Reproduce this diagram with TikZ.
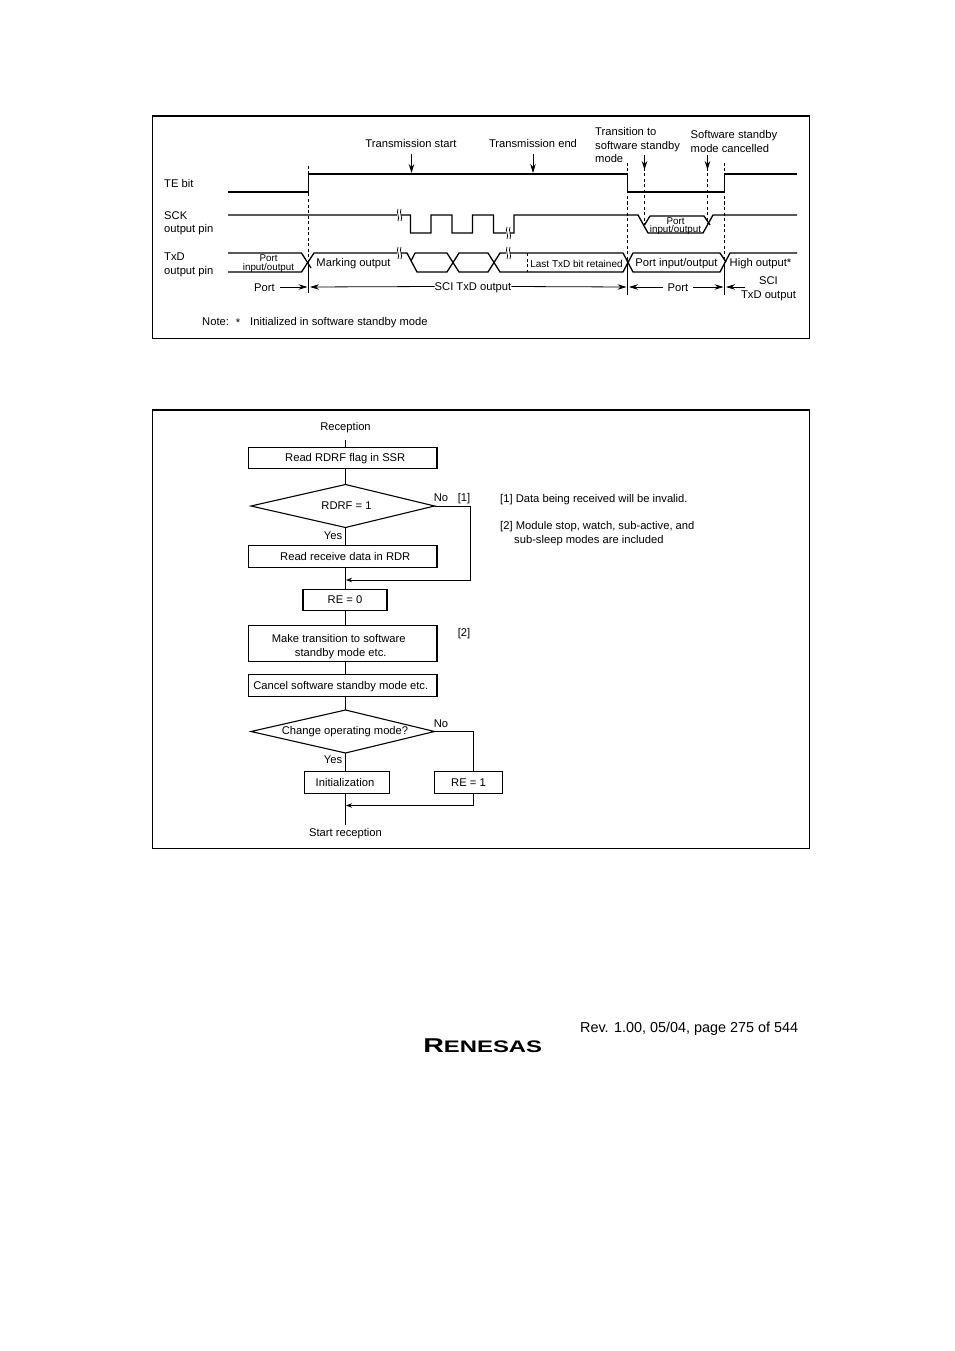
\documentclass[tikz,border=0pt]{standalone}
\usepackage{fontspec}
\setmainfont{Liberation Sans}
\usetikzlibrary{arrows.meta}
\tikzset{
  frameline/.style={line width=1pt},
  frametop/.style={line width=2pt},
  wave/.style={line width=1.3pt},
  dashline/.style={line width=0.8pt,dash pattern=on 3pt off 2.5pt},
  marker/.style={line width=0.8pt,-{Stealth[length=9pt,width=5.5pt]}},
  txtm/.style={font=\fontsize{11.2}{13.5}\selectfont,inner sep=0pt,align=center},
  txt/.style={txtm,text height=8pt,text depth=0pt},
  txtl/.style={txt,anchor=west,align=left},
  txtml/.style={txtm,anchor=west,align=left},
  small/.style={txtm,font=\fontsize{9.8}{8.5}\selectfont},
  procbox/.style={draw,line width=1.4pt,minimum height=21.5pt,inner sep=0pt,txt,text depth=1pt},
  decision/.style={line width=1.1pt},
  flow/.style={line width=0.9pt},
  flowarrow/.style={flow,-{Stealth[length=6pt,width=4.5pt]}}
}
\newcommand{\brkmark}[2]{%
  \fill[white] (#1,#2-6) rectangle (#1+4,#2+6);
  \draw[line width=0.7pt] (#1+1,#2-6) .. controls (#1-1,#2-2) and (#1+3,#2+2) .. (#1+1,#2+6);
  \draw[line width=0.7pt] (#1+4,#2-6) .. controls (#1+2,#2-2) and (#1+6,#2+2) .. (#1+4,#2+6);}
\begin{document}
\begin{tikzpicture}[x=1pt,y=-1pt,>=Stealth]
  \useasboundingbox (0,0) rectangle (954,1351);
  \fill[white] (0,0) rectangle (954,1351);
  % top frame
  \draw[frameline] (152.5,116) rectangle (809.5,338);
  \draw[frametop] (152,116) -- (810,116);
  % TE bit
  \draw[wave] (228,192) -- (308.5,192) -- (308.5,174) -- (627.5,174) -- (627.5,192) -- (724.5,192) -- (724.5,174) -- (797,174);
  % SCK
  \draw[wave] (228,215) -- (410.5,215) -- (410.5,233) -- (431,233) -- (431,215) -- (452,215) -- (452,233) -- (472.5,233) -- (472.5,215) -- (493.5,215) -- (493.5,233) -- (514,233) -- (514,215) -- (638,215) -- (648,233) -- (703,233) -- (713,215) -- (797,215);
  \draw[wave] (650,216) -- (644.5,225);
  \draw[wave] (650,216) -- (704,216) -- (710,225);
  \brkmark{397}{215}
  \brkmark{506}{233}
  % TxD
  \draw[wave] (228,253) -- (301.5,253) -- (311,268);
  \draw[wave] (228,272) -- (301.5,272) -- (314,253) -- (397,253);
  \draw[wave] (397,253) -- (407,253) -- (417,272) -- (447,272) -- (459,253) -- (488,253) -- (500,272) -- (623,272) -- (633,253) -- (720,253) -- (726,262);
  \draw[wave] (415,253) -- (411,261);
  \draw[wave] (415,253) -- (447,253) -- (459,272) -- (488,272) -- (500,253) -- (623,253) -- (633,272) -- (720,272) -- (730,253) -- (797,253);
  \brkmark{397}{253}
  \brkmark{506}{253}
  % timing lines
  \draw[dashline] (308.5,166) -- (308.5,262);
  \draw[dashline] (627.5,163) -- (627.5,262);
  \draw[dashline] (724.5,163) -- (724.5,262);
  \draw[dashline] (644.5,168) -- (644.5,225);
  \draw[dashline] (707.5,168) -- (707.5,225);
  \draw[dashline] (527.5,253) -- (527.5,272);
  \draw[line width=0.9pt] (308.5,262) -- (308.5,293);
  \draw[line width=0.9pt] (627.5,262) -- (627.5,295);
  \draw[line width=0.9pt] (724.5,262) -- (724.5,295);
  % signal names
  \node[txtl] (tebit) at (164,183) {TE bit};
  \node[txtml] (sckpin) at (164,223.5) {SCK\\output pin};
  \node[txtml] (txdpin) at (164,265) {TxD\\output pin};
  % events
  \node[txt] (txstart) at (411,143.7) {Transmission start};
  \node[txt] (txend) at (533,143.7) {Transmission end};
  \node[txtml] (tostandby) at (595,145) {Transition to\\software standby\\mode};
  \node[txtml] (cancelled) at (690.5,141.5) {Software standby\\mode cancelled};
  \coordinate (txstarttip) at (411.5,173);
  \coordinate (txendtip) at (533,173);
  \coordinate (tostandbytip) at (644.5,170);
  \coordinate (cancelledtip) at (707.5,170);
  \draw[marker] (411.5,154) -- (txstarttip);
  \draw[marker] (533,154) -- (txendtip);
  \draw[marker] (644.5,155) -- (tostandbytip);
  \draw[marker] (707.5,155) -- (cancelledtip);
  % labels in the waves
  \node[small] (portio1) at (268.5,263.5) {Port\\input/output};
  \node[txt] (marking) at (353.5,262) {Marking output};
  \node[txt,font=\fontsize{10}{12}\selectfont] (lastbit) at (576.5,263.5) {Last TxD bit retained};
  \node[txt] (portio2) at (676.5,262) {Port input/output};
  \node[txtl] (high) at (729.5,262) {High output*};
  \node[small] (portio3) at (675.5,226) {Port\\input/output};
  % spans
  \node[txt] (port1) at (264.5,287) {Port};
  \node[txt] (scitxd) at (473,286.5) {SCI TxD output};
  \node[txt] (port2) at (678,287) {Port};
  \node[txtm] (scitxd2) at (768.5,289) {SCI\\TxD output};
  \coordinate (a1) at (307.5,287);
  \coordinate (a2) at (310,287);
  \coordinate (a3) at (626.5,287);
  \coordinate (a4) at (629,287);
  \coordinate (a5) at (723.5,287);
  \coordinate (a6) at (726,287);
  \draw[marker] (port1.east) ++(5,0) -- (a1);
  \draw[marker] (scitxd.west) -- (a2);
  \draw[marker] (scitxd.east) -- (a3);
  \draw[marker] (port2.west) ++(-5,0) -- (a4);
  \draw[marker] (port2.east) ++(5,0) -- (a5);
  \draw[marker] (745,287) -- (a6);
  \node[txtl] (note) at (202,321) {Note:};
  \node[txt] (noteast) at (238,322) {*};
  \node[txtl] (notetext) at (250,321) {Initialized in software standby mode};
  % bottom frame
  \draw[frameline] (152.5,410) rectangle (809.5,848.5);
  \draw[frametop] (152,410) -- (810,410);
  % flowchart
  \node[txt] (recv) at (345.5,426) {Reception};
  \node[procbox,minimum width=188.5pt] (rdrdrf) at (342.75,458) {\hspace*{5pt}Read RDRF flag in SSR};
  \node[txt] (rdrf) at (346.5,505.5) {RDRF = 1};
  \node[procbox,minimum width=188.5pt] (rddata) at (342.75,556.5) {\hspace*{5pt}Read receive data in RDR};
  \node[procbox,minimum width=84pt] (rezero) at (345,600) {RE = 0};
  \node[draw,line width=1.4pt,minimum height=36.5pt,minimum width=188.5pt,txtm] (tostby) at (342.75,643.5) {\rule{0pt}{14pt}Make transition to software\hspace*{8pt}\\standby mode etc.\hspace*{4pt}};
  \node[procbox,minimum width=188.5pt] (cancel) at (342.75,685.5) {Cancel software standby mode etc.\hspace*{4pt}};
  \node[txt] (chgmode) at (345,730.5) {Change operating mode?};
  \node[procbox,minimum width=85pt] (init) at (347,782.5) {Initialization\hspace*{4pt}};
  \node[procbox,line width=1.1pt,minimum width=68pt] (reone) at (468.5,782.5) {RE = 1};
  \node[txt] (startrx) at (345.5,832) {Start reception};
  \node[txt] (no1) at (441,497.5) {No};
  \node[txt] (yes1) at (333,535) {Yes};
  \node[txt] (no2) at (441,723) {No};
  \node[txt] (yes2) at (333,759) {Yes};
  \node[txt] (ref1) at (464,497) {[1]};
  \node[txt] (ref2) at (464,632) {[2]};
  \coordinate (t1) at (345.5,440);
  \coordinate (t2) at (345.5,448);
  \coordinate (t3) at (345.5,469);
  \coordinate (t4) at (345.5,484.5);
  \coordinate (t5) at (345.5,527.5);
  \coordinate (t6) at (345.5,546);
  \coordinate (t7) at (345.5,567);
  \coordinate (t8) at (345.5,589);
  \coordinate (t9) at (345.5,611);
  \coordinate (t10) at (345.5,625);
  \coordinate (t11) at (345.5,662);
  \coordinate (t12) at (345.5,675);
  \coordinate (t13) at (345.5,696);
  \coordinate (t14) at (345.5,710);
  \coordinate (t15) at (345.5,753);
  \coordinate (t16) at (345.5,772);
  \coordinate (t17) at (345.5,793);
  \coordinate (t18) at (345.5,825);
  \coordinate (rdrfe) at (434.5,506);
  \coordinate (chge) at (434.5,731.5);
  \coordinate (mergea) at (346,580);
  \coordinate (mergeb) at (346,805.5);
  \coordinate (turna) at (470.5,506);
  \coordinate (turnb) at (470.5,580);
  \coordinate (turnc) at (473.5,731.5);
  \coordinate (turnd) at (473.5,772);
  \coordinate (turne) at (473.5,793);
  \coordinate (turnf) at (473.5,805.5);
  \draw[decision] (251,506) -- (t4) -- (rdrfe) -- (t5) -- cycle;
  \draw[decision] (251,731.5) -- (t14) -- (chge) -- (t15) -- cycle;
  \draw[flow] (t1) -- (t2);
  \draw[flow] (t3) -- (t4);
  \draw[flow] (t5) -- (t6);
  \draw[flow] (t7) -- (t8);
  \draw[flow] (t9) -- (t10);
  \draw[flow] (t11) -- (t12);
  \draw[flow] (t13) -- (t14);
  \draw[flow] (t15) -- (t16);
  \draw[flow] (t17) -- (t18);
  \draw[flowarrow] (rdrfe) -- (turna) -- (turnb) -- (mergea);
  \draw[flow] (chge) -- (turnc) -- (turnd);
  \draw[flowarrow] (turne) -- (turnf) -- (mergeb);
  % notes
  \node[txtl] (notea) at (500,498) {[1] Data being received will be invalid.};
  \node[txtml,font=\fontsize{11.2}{14}\selectfont] (noteb) at (500,534) {[2] Module stop, watch, sub-active, and\\\hspace*{14pt}sub-sleep modes are included};
  % page foot
  \node[inner sep=0pt,anchor=west,font=\fontsize{14.4}{17}\selectfont,text height=10.5pt,text depth=0pt] (rev) at (580,1027) {Rev. 1.00, 05/04, page 275 of 544};
  \node[inner sep=0pt,anchor=west,xscale=1.43,font=\bfseries\fontsize{16.7}{17}\selectfont,text height=12pt,text depth=0pt] (logo) at (423,1046) {{\fontsize{20}{20}\selectfont R}ENESAS};
\end{tikzpicture}
\end{document}
